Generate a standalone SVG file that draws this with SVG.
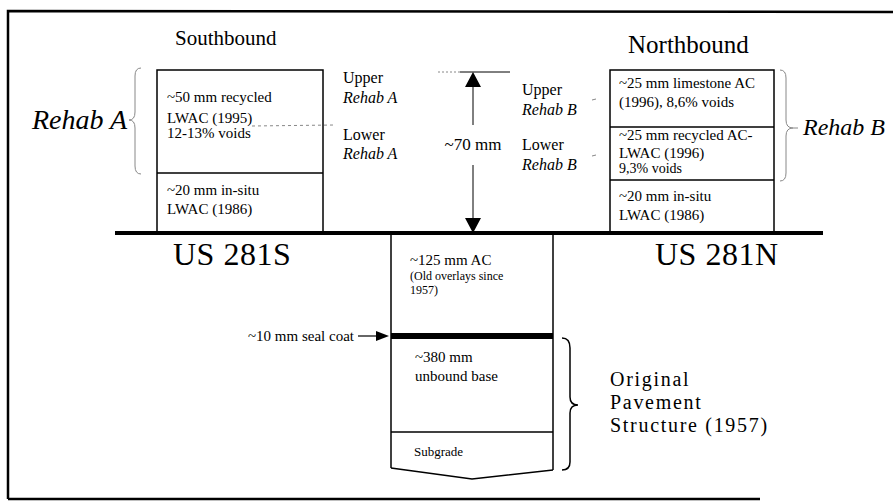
<svg xmlns="http://www.w3.org/2000/svg" width="893" height="503" viewBox="0 0 893 503">
<defs>
<style>
text{font-family:"Liberation Serif","Times New Roman",serif;fill:#000}
.t15{font-size:15px}
.t16{font-size:16px}
.it{font-style:italic}
.ln{stroke:#000;fill:none}
.gray{stroke:#888;fill:none;stroke-width:1}
</style>
</defs>
<rect x="0" y="0" width="893" height="503" fill="#fff"/>
<g id="frame">
<path d="M8,499 L8,11 L893,12" class="ln" stroke-width="2.5"/>
<line x1="8" y1="499" x2="760" y2="499" class="ln" stroke-width="2.5"/>
</g>
<g id="ground">
<line x1="115" y1="233" x2="823" y2="233" class="ln" stroke-width="4"/>
<text x="173" y="265" font-size="32" letter-spacing="0.5">US 281S</text>
<text x="655" y="265" font-size="32" letter-spacing="0.5">US 281N</text>
</g>
<g id="southbound">
<text x="175" y="45" font-size="21">Southbound</text>
<rect x="157" y="70" width="166" height="163" class="ln" stroke-width="1.5"/>
<line x1="157" y1="173" x2="323" y2="173" class="ln" stroke-width="1.5"/>
<text x="167" y="102" class="t15">~50 mm recycled</text>
<text x="167" y="123" class="t15">LWAC (1995)</text>
<text x="167" y="138" class="t15">12-13% voids</text>
<text x="167" y="195" class="t15">~20 mm in-situ</text>
<text x="167" y="214" class="t15">LWAC (1986)</text>
<path d="M252,126 L335,125" class="gray" stroke-dasharray="3,3"/>
</g>
<g id="rehabA">
<path d="M141,68 Q135,68 135,76 L135,112 Q135,120 129,120 Q135,120 135,128 L135,166 Q135,174 141,174" class="gray"/>
<text x="32" y="129" font-size="28" class="it">Rehab A</text>
<text x="343" y="83" class="t16">Upper</text>
<text x="343" y="103" class="t16 it">Rehab A</text>
<text x="343" y="140" class="t16">Lower</text>
<text x="343" y="159" class="t16 it">Rehab A</text>
</g>
<g id="dimension">
<line x1="438" y1="72" x2="460" y2="72" class="gray" stroke-dasharray="2,2"/>
<line x1="460" y1="72" x2="510" y2="72" class="ln" stroke-width="1"/>
<line x1="473" y1="85" x2="473" y2="125" class="ln" stroke-width="1"/>
<line x1="473" y1="165" x2="473" y2="220" class="ln" stroke-width="1"/>
<polygon points="473,72 465,87 481,87" fill="#000"/>
<polygon points="473,233 465,218 481,218" fill="#000"/>
<text x="473" y="150" font-size="17" text-anchor="middle">~70 mm</text>
</g>
<g id="rehabB-labels">
<text x="522" y="95" class="t16">Upper</text>
<text x="522" y="115" class="t16 it">Rehab B</text>
<text x="522" y="150" class="t16">Lower</text>
<text x="522" y="170" class="t16 it">Rehab B</text>
<line x1="592" y1="100" x2="596" y2="99" class="gray"/>
<line x1="592" y1="156" x2="596" y2="155" class="gray"/>
</g>
<g id="northbound">
<text x="628" y="53" font-size="25">Northbound</text>
<rect x="610" y="70" width="164" height="163" class="ln" stroke-width="1.5"/>
<line x1="610" y1="127" x2="774" y2="127" class="ln" stroke-width="1.5"/>
<line x1="610" y1="180" x2="774" y2="180" class="ln" stroke-width="1.5"/>
<text x="619" y="88" class="t15">~25 mm limestone AC</text>
<text x="619" y="107" class="t15">(1996), 8,6% voids</text>
<text x="619" y="140" class="t15">~25 mm recycled AC-</text>
<text x="619" y="158" class="t15">LWAC (1996)</text>
<text x="619" y="173" font-size="14">9,3% voids</text>
<text x="619" y="201" class="t15">~20 mm in-situ</text>
<text x="619" y="220" class="t15">LWAC (1986)</text>
</g>
<g id="rehabB">
<path d="M780,70 Q786,70 786,78 L786,120 Q786,128 793,128 Q786,128 786,136 L786,173 Q786,181 780,181" class="gray"/>
<line x1="793" y1="128" x2="798" y2="128" class="gray"/>
<text x="803" y="135" font-size="24" class="it">Rehab B</text>
</g>
<g id="original">
<line x1="391" y1="233" x2="391" y2="468" class="ln" stroke-width="1.5"/>
<line x1="553" y1="233" x2="553" y2="470" class="ln" stroke-width="1.5"/>
<rect x="391" y="333" width="162" height="6" fill="#000"/>
<line x1="391" y1="432" x2="553" y2="432" class="ln" stroke-width="1.5"/>
<path d="M391,468 L472,479 L553,470" class="ln" stroke-width="1.5"/>
<text x="410" y="265" class="t15">~125 mm AC</text>
<text x="410" y="280" font-size="12">(Old overlays since</text>
<text x="410" y="294" font-size="12">1957)</text>
<text x="415" y="362" class="t15">~380 mm</text>
<text x="415" y="381" class="t15">unbound base</text>
<text x="414" y="456" font-size="13">Subgrade</text>
</g>
<g id="sealcoat">
<text x="354" y="341" class="t15" text-anchor="end">~10 mm seal coat</text>
<line x1="358" y1="336" x2="378" y2="336" class="ln" stroke-width="1.2"/>
<polygon points="389,336 376,331 376,341" fill="#000"/>
</g>
<g id="structure-label">
<path d="M562,338 Q570,338 570,348 L570,397 Q570,405 578,405 Q570,405 570,413 L570,462 Q570,470 562,470" class="ln" stroke-width="1.5"/>
<text x="610" y="386" font-size="20" letter-spacing="1.7">Original</text>
<text x="610" y="409" font-size="20" letter-spacing="1.7">Pavement</text>
<text x="610" y="432" font-size="20" letter-spacing="1.7">Structure (1957)</text>
</g>
</svg>
